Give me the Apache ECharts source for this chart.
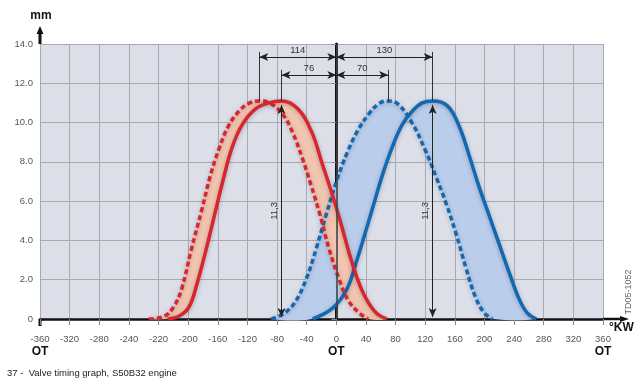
<!DOCTYPE html>
<html>
<head>
<meta charset="utf-8">
<script src="https://cdn.jsdelivr.net/npm/echarts@6/dist/echarts.min.js"></script>
<style>
  html, body { margin: 0; padding: 0; background: #fff; }
  #chart { width: 639px; height: 388px; }
</style>
</head>
<body>
<div id="chart"></div>
<script>
// tick labels as printed on the original (left half is labelled irregularly)
const xTickLabels = ['-360', '-320', '-280', '-240', '-220', '-200', '-160', '-120', '-80', '-40',
  '0', '40', '80', '120', '160', '200', '240', '280', '320', '360'];
const otTicks = [-400, 0, 360];

// valve lift curves [degree, mm]
const redDashed = [[-253, 0], [-232, 0.15], [-220, 0.6], [-209, 1.5], [-196, 3.5], [-182, 5.5], [-170, 7.3],
  [-158, 8.7], [-146, 9.8], [-131, 10.6], [-117, 11.0], [-104, 11.1], [-90, 11.0], [-72, 10.4], [-59, 9.5],
  [-46, 8.2], [-34, 6.8], [-22, 5.3], [-10, 3.6], [4, 2.0], [16, 0.95], [31, 0.3], [43, 0]];
const redSolid = [[-228, 0], [-212, 0.15], [-199, 0.6], [-188, 1.8], [-176, 3.5], [-165, 5.2], [-154, 6.9],
  [-141, 8.7], [-127, 9.9], [-109, 10.7], [-91, 11.0], [-74, 11.1], [-52, 10.7], [-33, 9.5], [-19, 7.9],
  [-6, 6.4], [6, 4.9], [17, 3.4], [28, 2.1], [40, 1.05], [54, 0.3], [68, 0]];
const blueDashed = [[-88, 0], [-70, 0.3], [-55, 0.9], [-41, 2.0], [-27, 3.6], [-13, 5.4], [1, 7.1],
  [15, 8.5], [29, 9.6], [44, 10.45], [57, 10.95], [68, 11.1], [83, 10.95], [102, 10.0], [120, 8.6],
  [135, 7.2], [149, 5.8], [162, 4.3], [175, 2.6], [188, 1.1], [200, 0.3], [211, 0]];
const blueSolid = [[-32, 0], [-5, 0.55], [14, 1.5], [27, 2.9], [40, 4.5], [51, 5.9], [62, 7.3], [76, 8.8],
  [89, 9.9], [103, 10.6], [116, 11.0], [130, 11.1], [150, 10.85], [166, 9.8], [180, 8.25], [193, 6.7],
  [207, 5.2], [220, 3.8], [234, 2.3], [247, 1.0], [258, 0.3], [270, 0]];

// dimensioning
const peakX = [-104, -74, 70, 130];      // red dashed, red solid, blue dashed, blue solid
const dimLabels = ['114', '76', '70', '130'];
const liftLabel = '11,3';
const liftTop = 11.1;
const outerY = 13.34, innerY = 12.42;   // arrow rows
const outerTop = 13.6, innerTop = 12.68;

const RED = '#d9262c';
const BLUE = '#1168b3';
const sans = '"Liberation Sans", Arial, sans-serif';

const chart = echarts.init(document.getElementById('chart'));

const band = (a, b, fill) => (params, api) => {
  const pts = a.map(p => api.coord(p)).concat(b.slice().reverse().map(p => api.coord(p)));
  return { type: 'polygon', shape: { points: pts, smooth: 0.35 }, style: { fill: fill } };
};

const curve = (data, color, dashed, z) => ({
  type: 'line', data: data, smooth: 0.4, showSymbol: false, silent: true, z: z,
  lineStyle: {
    color: color, width: 3.5, type: dashed ? [5, 3] : 'solid',
    shadowColor: 'rgba(30,30,50,0.3)', shadowBlur: 4, shadowOffsetY: 1
  }
});

const arrowLine = (x1, y1, x2, y2, name) => [
  { coord: [x1, y1], name: name },
  { coord: [x2, y2] }
];

chart.setOption({
  animation: false,
  grid: { left: 40, right: 36, top: 44, bottom: 69, show: true, backgroundColor: '#dcdfe8', borderWidth: 0 },
  xAxis: {
    type: 'value', min: -400, max: 360, interval: 40,
    axisLine: { lineStyle: { color: '#111', width: 2.5 } },
    axisTick: { length: 6, lineStyle: { color: '#888' } },
    splitLine: { lineStyle: { color: '#a9abb3', width: 1 } },
    axisLabel: {
      margin: 14,
      formatter: v => {
        const t = xTickLabels[Math.round((v + 400) / 40)];
        return otTicks.indexOf(v) >= 0 ? '{n|' + t + '}\n{ot|OT}' : '{n|' + t + '}';
      },
      rich: {
        n: { fontFamily: sans, fontSize: 9.5, color: '#555', lineHeight: 12 },
        ot: { fontFamily: sans, fontSize: 12, fontWeight: 'bold', color: '#111', lineHeight: 14 }
      }
    }
  },
  yAxis: {
    type: 'value', min: 0, max: 14, interval: 2,
    axisLine: { show: true, lineStyle: { color: '#111', width: 3 } },
    axisTick: { show: true, length: 5, lineStyle: { color: '#888' } },
    splitLine: { lineStyle: { color: '#a9abb3', width: 1 } },
    axisLabel: {
      margin: 7, fontFamily: sans, fontSize: 9.5, color: '#555',
      formatter: v => v === 0 ? '0' : v.toFixed(1)
    }
  },
  series: [
    { type: 'custom', coordinateSystem: 'cartesian2d', data: [[0, 0]], silent: true, z: 1,
      renderItem: band(blueDashed, blueSolid, '#bacdea') },
    { type: 'custom', coordinateSystem: 'cartesian2d', data: [[0, 0]], silent: true, z: 1,
      renderItem: band(redDashed, redSolid, '#f2c5b1') },
    curve(blueDashed, BLUE, true, 3),
    curve(blueSolid, BLUE, false, 3),
    curve(redDashed, RED, true, 4),
    curve(redSolid, RED, false, 4),
    {
      type: 'line', data: [], silent: true, z: 5,
      markLine: {
        silent: true, animation: false, symbol: ['none', 'none'],
        label: { show: false },
        lineStyle: { color: '#333', width: 1, type: 'solid' },
        data: [
          [{ coord: [0, 0], lineStyle: { width: 1.6, color: '#444' } }, { coord: [0, 14] }],
          arrowLine(peakX[0], outerTop, peakX[0], liftTop),
          arrowLine(peakX[1], innerTop, peakX[1], liftTop),
          arrowLine(peakX[2], innerTop, peakX[2], liftTop),
          arrowLine(peakX[3], outerTop, peakX[3], liftTop)
        ]
      }
    },
    {
      type: 'line', data: [], silent: true, z: 6,
      markLine: {
        silent: true, animation: false, symbol: ['arrow', 'arrow'], symbolSize: [6, 9],
        lineStyle: { color: '#222', width: 1, type: 'solid' },
        label: { show: true, position: 'middle', formatter: '{b}', fontFamily: sans, fontSize: 9.5, color: '#333', distance: 2 },
        data: [
          arrowLine(peakX[0], outerY, 0, outerY, dimLabels[0]),
          arrowLine(peakX[1], innerY, 0, innerY, dimLabels[1]),
          arrowLine(0, innerY, peakX[2], innerY, dimLabels[2]),
          arrowLine(0, outerY, peakX[3], outerY, dimLabels[3]),
          arrowLine(peakX[1], 0.1, peakX[1], liftTop - 0.2, liftLabel),
          arrowLine(peakX[3], 0.1, peakX[3], liftTop - 0.2, liftLabel)
        ]
      }
    }
  ]
});

// axis arrows and free texts
const o = chart.convertToPixel({ gridIndex: 0 }, [-400, 0]);
const t = chart.convertToPixel({ gridIndex: 0 }, [-400, 14]);
const r = chart.convertToPixel({ gridIndex: 0 }, [360, 0]);
chart.setOption({
  graphic: [
    { type: 'line', shape: { x1: o[0], y1: t[1], x2: o[0], y2: t[1] - 11 }, style: { stroke: '#111', lineWidth: 3 } },
    { type: 'line', shape: { x1: o[0], y1: o[1], x2: o[0], y2: o[1] + 7 }, style: { stroke: '#111', lineWidth: 3 } },
    { type: 'polygon', shape: { points: [[o[0] - 3.5, t[1] - 10], [o[0], t[1] - 18], [o[0] + 3.5, t[1] - 10]] }, style: { fill: '#111' } },
    { type: 'line', shape: { x1: r[0], y1: r[1], x2: r[0] + 18, y2: r[1] }, style: { stroke: '#111', lineWidth: 2.5 } },
    { type: 'polygon', shape: { points: [[r[0] + 17, r[1] - 3], [r[0] + 26, r[1]], [r[0] + 17, r[1] + 3]] }, style: { fill: '#111' } },
    { type: 'text', x: o[0] + 1, y: t[1] - 28, style: { text: 'mm', font: 'bold 12px ' + sans, fill: '#111', textAlign: 'center', textVerticalAlign: 'middle' } },
    { type: 'text', x: r[0] + 6, y: r[1] + 9, style: { text: '°KW', font: 'bold 12px ' + sans, fill: '#111', textAlign: 'left', textVerticalAlign: 'middle' } },
    { type: 'text', x: 7, y: 373, style: { text: '37 -  Valve timing graph, S50B32 engine', font: '9.5px ' + sans, fill: '#222', textAlign: 'left', textVerticalAlign: 'middle' } },
    { type: 'text', x: 629, y: 292, rotation: Math.PI / 2, style: { text: 'TD05-1052', font: '9px ' + sans, fill: '#666', textAlign: 'center', textVerticalAlign: 'middle' } }
  ]
});
</script>
</body>
</html>
